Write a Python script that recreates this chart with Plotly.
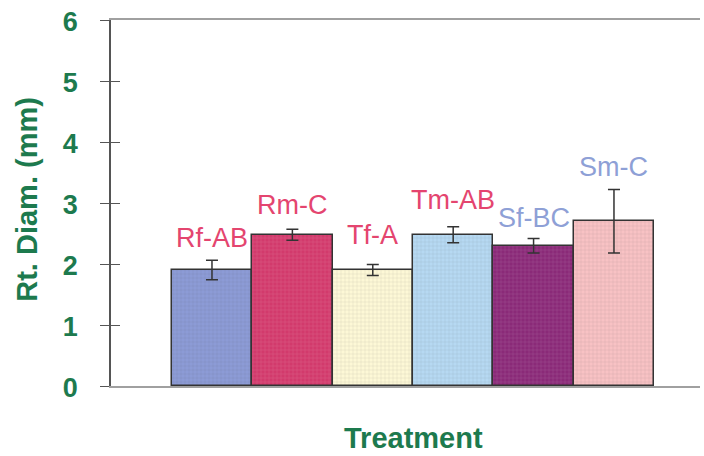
import plotly.graph_objects as go

categories = ["Rf", "Rm", "Tf", "Tm", "Sf", "Sm"]
means = [1.90, 2.48, 1.90, 2.48, 2.30, 2.70]
errors = [0.16, 0.09, 0.09, 0.13, 0.12, 0.52]
bar_colors = ["#8c9bd6", "#d23a6c", "#fdf8d6", "#b6d9f2", "#8a2a78", "#f8c2c4"]
labels = ["Rf-AB", "Rm-C", "Tf-A", "Tm-AB", "Sf-BC", "Sm-C"]
label_y = [2.43, 2.97, 2.48, 3.05, 2.75, 3.59]
label_colors = ["#e4456f", "#e4456f", "#e4456f", "#e4456f", "#8ea0d6", "#8ea0d6"]
y_ticks = [0, 1, 2, 3, 4, 5, 6]

green = "#1d7a4e"
font_family = "Arial, Liberation Sans"

fig = go.Figure()
fig.add_trace(go.Bar(
    x=categories, y=means, width=1.0,
    marker=dict(color=bar_colors, line=dict(color="#333333", width=1.5),
                pattern=dict(shape="+", size=4, solidity=0.15, fgcolor="#ffffff", fgopacity=0.25)),
    error_y=dict(type="data", array=errors, visible=True, color="#333333", thickness=1.5, width=6),
    showlegend=False,
))
# overlay axis to give ticks that cross the y-axis line
fig.add_trace(go.Scatter(x=[None], y=[None], yaxis="y2", showlegend=False))

for c, t, yy, col in zip(categories, labels, label_y, label_colors):
    fig.add_annotation(x=c, y=yy, text=t, showarrow=False, xanchor="center", yanchor="middle",
                       font=dict(family=font_family, size=27, color=col))

fig.add_annotation(xref="paper", yref="paper", x=0.514, y=-0.142, text="<b>Treatment</b>",
                   xanchor="center", yanchor="middle",
                   showarrow=False, font=dict(family=font_family, size=29, color=green))
fig.add_annotation(xref="paper", yref="paper", x=-0.143, y=0.511, text="<b>Rt. Diam. (mm)</b>",
                   xanchor="center", yanchor="middle",
                   textangle=-90, showarrow=False,
                   font=dict(family=font_family, size=29, color=green))

fig.update_layout(
    width=704, height=456,
    margin=dict(l=111, r=4, t=20, b=70),
    paper_bgcolor="white", plot_bgcolor="white",
    bargap=0,
    xaxis=dict(range=[-1.256, 6.07], showticklabels=False, ticks="", showgrid=False,
               showline=True, linecolor="#a0a0a0", linewidth=1.5, mirror=True, zeroline=False),
    yaxis=dict(range=[0, 6], tickvals=y_ticks, ticks="outside", ticklen=9, tickcolor="#555555",
               tickwidth=1, showgrid=False, zeroline=False, showline=True, linecolor="#555555",
               linewidth=1.5, ticklabelstandoff=17, ticklabeloverflow="allow", automargin=False,
               ticklabelshift=2,
               tickfont=dict(family=font_family, size=27, color=green, weight="bold")),
    yaxis2=dict(range=[0, 6], tickvals=y_ticks, overlaying="y", side="left", ticks="inside",
                ticklen=9, tickcolor="#555555", tickwidth=1, showticklabels=False,
                showgrid=False, zeroline=False, showline=False),
)

fig.write_html("out.html", config={"displayModeBar": False},
               post_script="document.body.style.margin='0';")
